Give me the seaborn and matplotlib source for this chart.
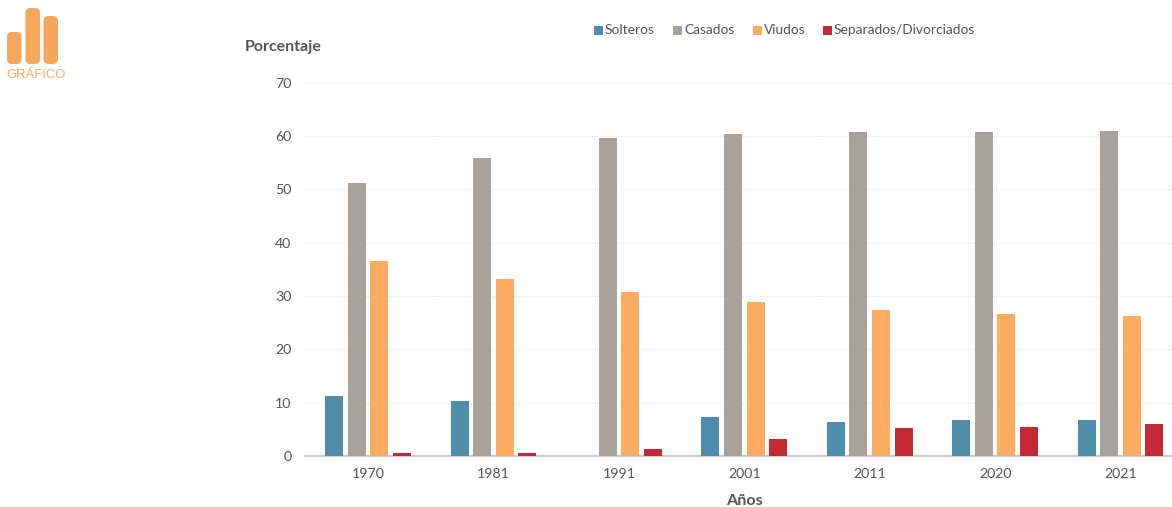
import numpy as np
import pandas as pd
import seaborn as sns
import matplotlib
matplotlib.use("Agg")
import matplotlib.pyplot as plt
from matplotlib.patches import FancyBboxPatch, Rectangle

years = ["1970", "1981", "1991", "2001", "2011", "2020", "2021"]
solteros = [11.3, 10.4, np.nan, 7.4, 6.4, 6.8, 6.7]
casados = [51.2, 55.9, 59.7, 60.4, 60.8, 60.8, 61.0]
viudos = [36.6, 33.2, 30.8, 28.9, 27.4, 26.7, 26.2]
separados = [0.6, 0.5, 1.4, 3.1, 5.3, 5.5, 6.0]
series_names = ["Solteros", "Casados", "Viudos", "Separados/Divorciados"]
colors = ["#4F8EAB", "#A9A29B", "#FBAC60", "#C22B33"]

W, H = 1172, 507
sns.set_theme(style="white")
plt.rcParams["font.family"] = ["Lato", "DejaVu Sans"]
dpi = 100
fig = plt.figure(figsize=(W / dpi, H / dpi), dpi=dpi, facecolor="white")

def px_axes(l, t, r, b, **kw):
    return fig.add_axes([l / W, 1 - b / H, (r - l) / W, (b - t) / H], **kw)

df = pd.DataFrame({"Año": years, "Solteros": solteros, "Casados": casados,
                   "Viudos": viudos, "Separados/Divorciados": separados})
long = df.melt(id_vars="Año", var_name="Estado", value_name="Porcentaje")

ax = px_axes(305.3, 82.8, 1172, 456)
sns.barplot(data=long, x="Año", y="Porcentaje", hue="Estado", order=years,
            hue_order=series_names, palette=colors, saturation=1,
            width=0.72, gap=0.2, ax=ax, legend=False, zorder=3, linewidth=0)
ax.set_xlim(-0.5, 6.41)
ax.set_ylim(0, 70)
ax.set_yticks(range(0, 71, 10))
ax.yaxis.grid(True, color="#E2E2E2", linestyle=(0, (1, 1.5)), linewidth=0.7, zorder=0)
ax.xaxis.grid(False)
ax.set_axisbelow(True)
for s in ["top", "right", "left"]:
    ax.spines[s].set_visible(False)
ax.spines["bottom"].set_color("#CCCCCC")
ax.spines["bottom"].set_linewidth(1.6)
ax.tick_params(axis="both", length=0, labelsize=10.2, labelcolor="#555555")
ax.tick_params(axis="x", pad=9)
ax.tick_params(axis="y", pad=10)
ax.set_xlabel("")
ax.set_ylabel("")

fig.text(283.5 / W, 1 - 47 / H, "Porcentaje", ha="center", va="center",
         fontsize=11.5, fontweight="bold", color="#555555")
fig.text(744 / W, 1 - 501 / H, "Años", ha="center", va="center",
         fontsize=11.6, fontweight="bold", color="#555555")

# legend
legend_swatches = [594, 673, 753, 823]
for name, c, x0 in zip(series_names, colors, legend_swatches):
    fig.patches.append(Rectangle((x0 / W, 1 - 34.5 / H), 9 / W, 9 / H,
                                 transform=fig.transFigure, facecolor=c, edgecolor="none"))
    fig.text((x0 + 11) / W, 1 - 34 / H, name, ha="left", va="baseline",
             fontsize=9.9, color="#555555")

# logo
logo_color = "#F5A85C"
lax = fig.add_axes([0, 0, 1, 1], facecolor="none")
lax.set_xlim(0, W)
lax.set_ylim(H, 0)
lax.axis("off")
for l, t, r, b in [(7, 32, 21.5, 64), (25.5, 8, 40, 64), (43.5, 16, 58, 64)]:
    rad = 5
    lax.add_patch(FancyBboxPatch((l + rad, t + rad), r - l - 2 * rad, b - t - 2 * rad,
                                 boxstyle=f"round,pad={rad},rounding_size={rad}",
                                 facecolor=logo_color, edgecolor="none"))
lax.text(36, 75, "GRÁFICO", ha="center", va="center", fontsize=9.4,
         color=logo_color, family="Liberation Sans", fontweight="medium")

fig.savefig("out.png", dpi=dpi, facecolor="white")
